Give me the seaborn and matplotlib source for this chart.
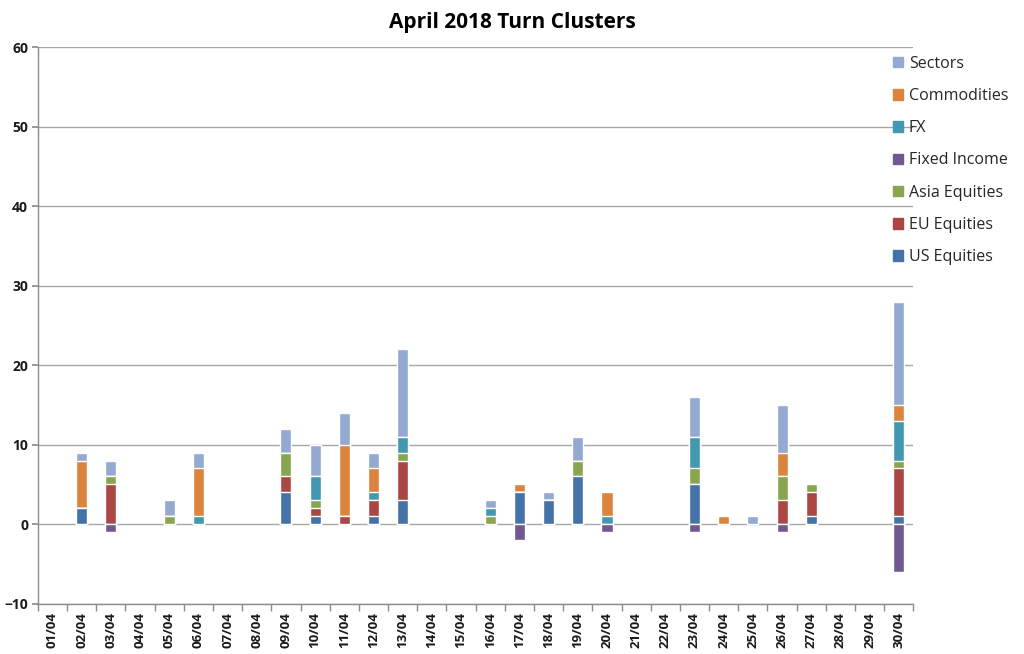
import numpy as np
import pandas as pd
import matplotlib
matplotlib.use("Agg")
import matplotlib.pyplot as plt
from matplotlib.patches import Patch
import seaborn as sns

# datos
dias = ["%02d/04" % d for d in range(1, 31)]

us_eq =   [0, 2, 0, 0, 0, 0, 0, 0, 4, 1, 0, 1, 3, 0, 0, 0, 4, 3, 6, 0, 0, 0, 5, 0, 0, 0, 1, 0, 0, 1]
eu_eq =   [0, 0, 5, 0, 0, 0, 0, 0, 2, 1, 1, 2, 5, 0, 0, 0, 0, 0, 0, 0, 0, 0, 0, 0, 0, 3, 3, 0, 0, 6]
asia_eq = [0, 0, 1, 0, 1, 0, 0, 0, 3, 1, 0, 0, 1, 0, 0, 1, 0, 0, 2, 0, 0, 0, 2, 0, 0, 3, 1, 0, 0, 1]
fixed_inc = [0, 0, -1, 0, 0, 0, 0, 0, 0, 0, 0, 0, 0, 0, 0, 0, -2, 0, 0, -1, 0, 0, -1, 0, 0, -1, 0, 0, 0, -6]
fx =      [0, 0, 0, 0, 0, 1, 0, 0, 0, 3, 0, 1, 2, 0, 0, 1, 0, 0, 0, 1, 0, 0, 4, 0, 0, 0, 0, 0, 0, 5]
commod =  [0, 6, 0, 0, 0, 6, 0, 0, 0, 0, 9, 3, 0, 0, 0, 0, 1, 0, 0, 3, 0, 0, 0, 1, 0, 3, 0, 0, 0, 2]
sectors = [0, 1, 2, 0, 2, 2, 0, 0, 3, 4, 4, 2, 11, 0, 0, 1, 0, 1, 3, 0, 0, 0, 5, 0, 1, 6, 0, 0, 0, 13]

series = [("US Equities", us_eq, "#4572A7"),
          ("EU Equities", eu_eq, "#AA4643"),
          ("Asia Equities", asia_eq, "#89A54E"),
          ("FX", fx, "#4198AF"),
          ("Commodities", commod, "#DB843D"),
          ("Sectors", sectors, "#93A9CF")]
fi_color = "#71588F"

sns.set_theme(style="white")
plt.rcParams['font.family'] = ['Open Sans', 'DejaVu Sans']

fig, ax = plt.subplots(figsize=(10.24, 6.54), dpi=100)
fig.subplots_adjust(left=0.037, right=0.892, top=0.928, bottom=0.077)

# acumulados positivos, se pintan de arriba hacia abajo
acum = np.cumsum(np.array([s[1] for s in series], dtype=float), axis=0)
for i in range(len(series) - 1, -1, -1):
    v = acum[i].copy()
    v[v == 0] = np.nan
    df = pd.DataFrame({"dia": dias, "v": v})
    sns.barplot(data=df, x="dia", y="v", order=dias, color=series[i][2], saturation=1,
                width=0.38, edgecolor="white", linewidth=1, ax=ax, zorder=3)

fi = np.array(fixed_inc, dtype=float)
fi[fi == 0] = np.nan
df_fi = pd.DataFrame({"dia": dias, "v": fi})
sns.barplot(data=df_fi, x="dia", y="v", order=dias, color=fi_color, saturation=1,
            width=0.38, edgecolor="white", linewidth=1, ax=ax, zorder=3)

ax.set_ylim(-10, 60)
ax.set_xlim(-0.5, 29.5)
ax.set_yticks(range(-10, 61, 10))
ax.yaxis.grid(True, color="#A6A6A6", linewidth=1, zorder=0)
ax.set_axisbelow(True)
ax.set_xlabel("")
ax.set_ylabel("")

for s in ["top", "right"]:
    ax.spines[s].set_visible(False)
for s in ["left", "bottom"]:
    ax.spines[s].set_color("#8C8C8C")
    ax.spines[s].set_linewidth(1)

ax.set_xticks(np.arange(-0.5, 30, 1), minor=True)
ax.tick_params(axis="x", which="major", length=0, pad=6)
ax.tick_params(axis="x", which="minor", length=5, color="#8C8C8C", bottom=True)
ax.tick_params(axis="y", length=4, color="#8C8C8C", left=True, pad=3)
plt.setp(ax.get_xticklabels(), rotation=90, fontsize=9.5, fontweight="bold", color="#1a1a1a")
plt.setp(ax.get_yticklabels(), fontsize=10, fontweight="bold", color="#1a1a1a")

fig.text(0.5, 0.965, "April 2018 Turn Clusters", ha="center", va="center",
         fontsize=15, fontweight="bold", color="black")

handles = [Patch(color=c, label=n) for n, v, c in series[::-1][:3]]
handles.append(Patch(color=fi_color, label="Fixed Income"))
handles += [Patch(color=c, label=n) for n, v, c in series[::-1][3:]]
fig.legend(handles=handles, loc="upper left", bbox_to_anchor=(0.858, 0.937),
           frameon=False, fontsize=11.5, handlelength=0.65, handleheight=0.65,
           handletextpad=0.35, labelspacing=1.02)

fig.savefig("out.png", dpi=100)
